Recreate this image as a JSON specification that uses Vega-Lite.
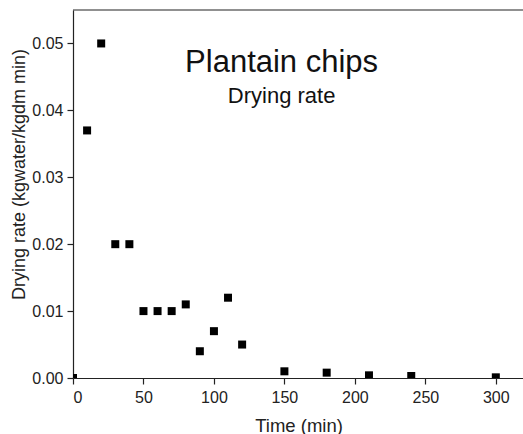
{
  "$schema": "https://vega.github.io/schema/vega-lite/v6.json",
  "width": 451,
  "height": 368,
  "autosize": "none",
  "padding": {"left": 73, "top": 10, "right": 0, "bottom": 56},
  "background": "white",
  "config": {
    "view": {"stroke": null},
    "font": "Liberation Sans",
    "axis": {"domainColor": "#222", "tickColor": "#222", "labelColor": "#222", "titleColor": "#222", "grid": false, "labelFont": "Liberation Sans", "titleFont": "Liberation Sans", "titleFontWeight": "normal"}
  },
  "layer": [
    {
      "data": {
        "values": [
          {"time": 0, "rate": 0.0},
          {"time": 10, "rate": 0.037},
          {"time": 20, "rate": 0.05},
          {"time": 30, "rate": 0.02},
          {"time": 40, "rate": 0.02},
          {"time": 50, "rate": 0.01},
          {"time": 60, "rate": 0.01},
          {"time": 70, "rate": 0.01},
          {"time": 80, "rate": 0.011},
          {"time": 90, "rate": 0.004},
          {"time": 100, "rate": 0.007},
          {"time": 110, "rate": 0.012},
          {"time": 120, "rate": 0.005},
          {"time": 150, "rate": 0.001},
          {"time": 180, "rate": 0.0008},
          {"time": 210, "rate": 0.0004},
          {"time": 240, "rate": 0.0003},
          {"time": 300, "rate": 0.0001}
        ]
      },
      "mark": {"type": "point", "shape": "square", "filled": true, "fill": "black", "strokeWidth": 0, "opacity": 1, "size": 64, "clip": true},
      "encoding": {
        "x": {"field": "time", "type": "quantitative", "scale": {"domain": [0, 320], "nice": false},
          "axis": {"values": [0, 50, 100, 150, 200, 250, 300], "title": "Time (min)", "labelFontSize": 16, "titleFontSize": 18.5, "tickSize": 6, "labelPadding": 5, "titlePadding": 11, "domainWidth": 1.2, "tickWidth": 1.2, "tickMinorStep": 25, "minorTickSize": 3.5}},
        "y": {"field": "rate", "type": "quantitative", "scale": {"domain": [0, 0.055], "nice": false},
          "axis": {"values": [0, 0.01, 0.02, 0.03, 0.04, 0.05], "format": ".2f", "title": "Drying rate (kgwater/kgdm min)", "labelFontSize": 16, "titleFontSize": 18, "tickSize": 6, "labelPadding": 4, "titlePadding": 3, "titleY": 164, "domainWidth": 1.2, "tickWidth": 1.2, "tickMinorStep": 0.005, "minorTickSize": 3.5}}
      }
    },
    {
      "data": {"values": [{"label": "Plantain chips", "time": 148, "rate": 0.0471}]},
      "mark": {"type": "text", "fontSize": 31, "fontWeight": "normal", "font": "Liberation Sans", "fill": "#111", "align": "center", "baseline": "middle"},
      "encoding": {
        "x": {"field": "time", "type": "quantitative"},
        "y": {"field": "rate", "type": "quantitative"},
        "text": {"field": "label"}
      }
    },
    {
      "data": {"values": [{"label": "Drying rate", "time": 148, "rate": 0.0422}]},
      "mark": {"type": "text", "fontSize": 22, "fontWeight": "normal", "font": "Liberation Sans", "fill": "#111", "align": "center", "baseline": "middle"},
      "encoding": {
        "x": {"field": "time", "type": "quantitative"},
        "y": {"field": "rate", "type": "quantitative"},
        "text": {"field": "label"}
      }
    },
    {
      "data": {"values": [{"t0": 0, "t1": 320, "top": 0.055}]},
      "mark": {"type": "rule", "color": "#222", "strokeWidth": 1.2},
      "encoding": {
        "x": {"field": "t0", "type": "quantitative"},
        "x2": {"field": "t1"},
        "y": {"field": "top", "type": "quantitative"}
      }
    }
  ]
}
